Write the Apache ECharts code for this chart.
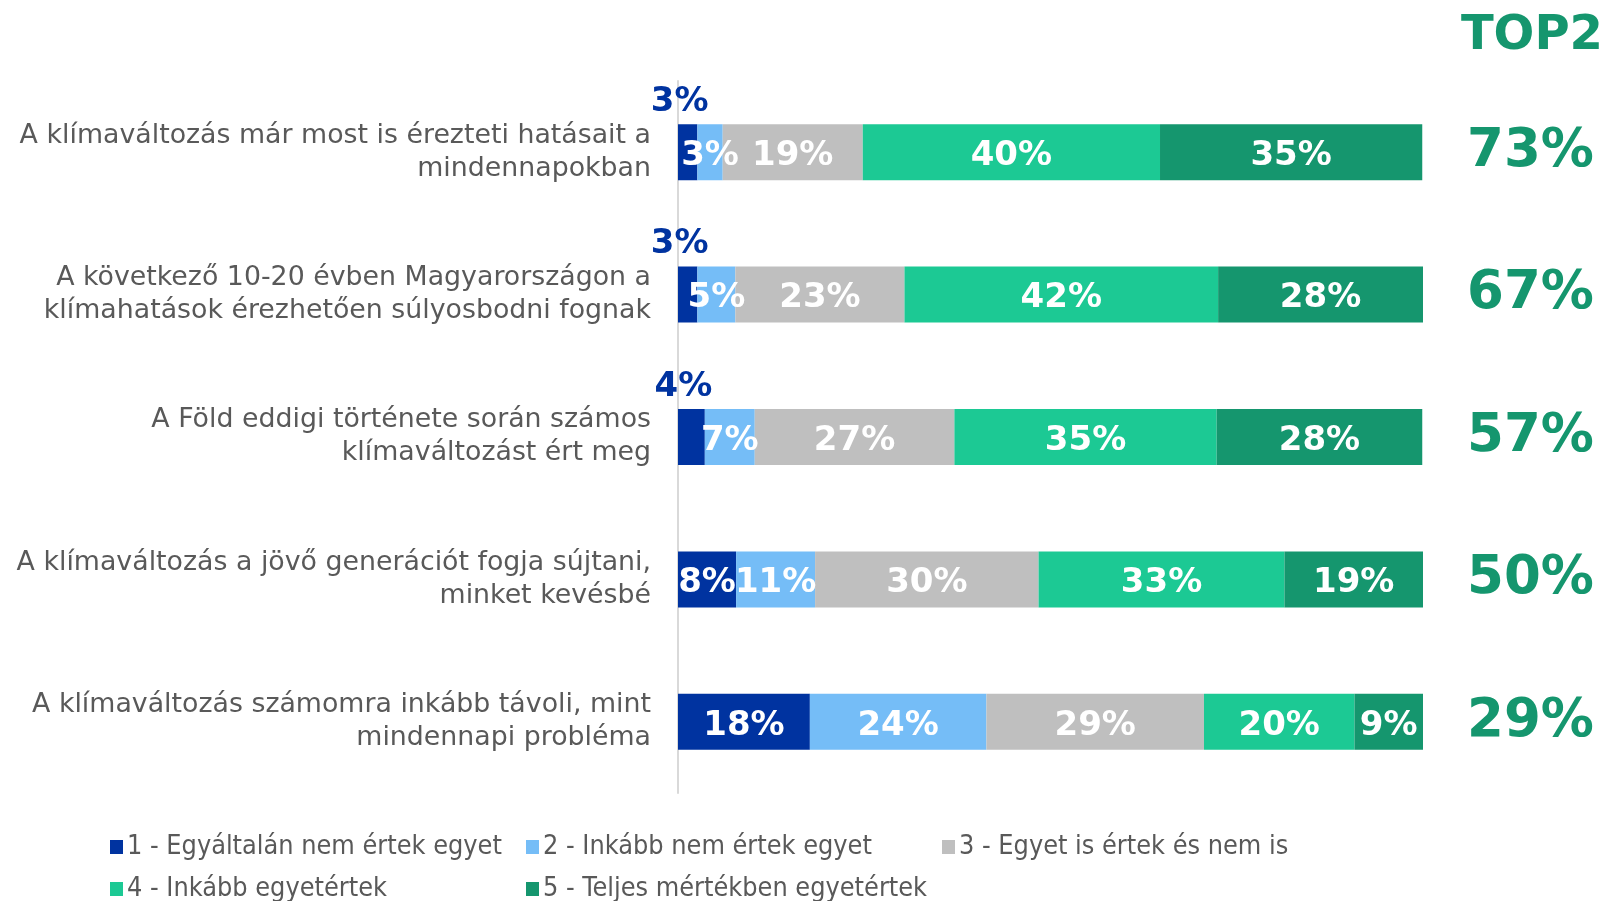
<!DOCTYPE html>
<html>
<head>
<meta charset="utf-8">
<script src="https://cdn.jsdelivr.net/npm/echarts@6/dist/echarts.min.js"></script>
<style>
  html, body { margin: 0; padding: 0; background: #fff; }
  #chart { width: 1608px; height: 901px; }
</style>
</head>
<body>
<div id="chart"></div>
<script>
var dom = document.getElementById("chart");
var myChart = echarts.init(dom);

// statements (top to bottom)
var categories = [
    'A klímaváltozás már most is érezteti hatásait a\nmindennapokban',
    'A következő 10-20 évben Magyarországon a\nklímahatások érezhetően súlyosbodni fognak',
    'A Föld eddigi története során számos\nklímaváltozást ért meg',
    'A klímaváltozás a jövő generációt fogja sújtani,\nminket kevésbé',
    'A klímaváltozás számomra inkább távoli, mint\nmindennapi probléma'
];

var seriesNames = [
    '1 - Egyáltalán nem értek egyet',
    '2 - Inkább nem értek egyet',
    '3 - Egyet is értek és nem is',
    '4 - Inkább egyetértek',
    '5 - Teljes mértékben egyetértek'
];

var colors = ['#0033a0', '#75bdf7', '#bfbfbf', '#1cc994', '#15966e'];

// shares in percent
var s1 = [2.6, 2.6, 3.6, 7.8, 17.7];
var s2 = [3.4, 5.1, 6.7, 10.6, 23.7];
var s3 = [18.8, 22.7, 26.8, 30.0, 29.2];
var s4 = [39.9, 42.1, 35.2, 33.0, 20.2];
var s5 = [35.2, 27.5, 27.6, 18.6, 9.2];
var values = [s1, s2, s3, s4, s5];

// first segment label printed above the bar
var labelAbove = [true, true, true, false, false];

var top2 = ['73%', '67%', '57%', '50%', '29%'];

var series = values.map(function (arr, i) {
    return {
        name: seriesNames[i],
        type: 'bar',
        stack: 'total',
        barWidth: 56,
        itemStyle: { color: colors[i] },
        label: {
            show: true,
            position: 'inside',
            color: '#fff',
            fontFamily: 'DejaVu Sans',
            fontWeight: 'bold',
            fontSize: 34,
            offset: [0, 4],
            formatter: function (p) { return Math.round(p.value) + '%'; }
        },
        data: arr.map(function (v, j) {
            if (i === 0 && labelAbove[j]) {
                return {
                    value: v,
                    label: { position: 'top', color: '#0033a0', distance: 5, offset: [-8, 0] }
                };
            }
            return v;
        })
    };
});

option = {
    animation: false,
    title: {
        text: 'TOP2',
        right: 0,
        top: 8,
        textStyle: { color: '#15966e', fontFamily: 'DejaVu Sans', fontWeight: 'bold', fontSize: 48 }
    },
    grid: { left: 678, right: 185, top: 81, bottom: 108 },
    legend: {
        data: seriesNames,
        left: 105,
        top: 826,
        width: 1270,
        icon: 'rect',
        itemWidth: 13,
        itemHeight: 14,
        itemGap: 10,
        textStyle: {
            color: '#595959',
            fontFamily: 'DejaVu Sans Condensed',
            fontSize: 26.8,
            lineHeight: 32,
            width: 389,
            padding: [0, 0, 0, -1]
        }
    },
    xAxis: {
        type: 'value',
        min: 0,
        max: 100,
        show: false
    },
    yAxis: [{
        type: 'category',
        inverse: true,
        data: categories,
        axisTick: { show: false },
        axisLine: { show: true, lineStyle: { color: '#d9d9d9', width: 2 } },
        axisLabel: {
            color: '#595959',
            fontFamily: 'DejaVu Sans',
            fontSize: 26.8,
            lineHeight: 33,
            margin: 27,
            align: 'right',
            padding: [9, 0, 0, 0]
        }
    }, {
        type: 'category',
        inverse: true,
        position: 'right',
        data: top2,
        axisTick: { show: false },
        axisLine: { show: false },
        axisLabel: {
            color: '#15966e',
            fontFamily: 'DejaVu Sans',
            fontWeight: 'bold',
            fontSize: 53,
            margin: 44,
            padding: [0, 0, 20, 0]
        }
    }],
    series: series
};

myChart.setOption(option);
</script>
</body>
</html>
